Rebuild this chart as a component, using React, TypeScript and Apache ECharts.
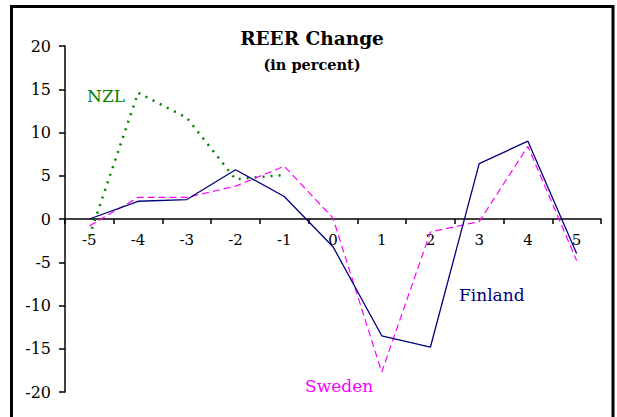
import React, { useEffect, useRef } from "react";
import * as echarts from "echarts";

const categories = ["-5", "-4", "-3", "-2", "-1", "0", "1", "2", "3", "4", "5"];
const finland = [0, 2.05, 2.25, 5.7, 2.6, -3.2, -13.5, -14.8, 6.4, 9.0, -4.0];
const sweden = [-0.8, 2.5, 2.5, 3.8, 6.1, 0.1, -17.7, -1.5, -0.3, 8.4, -4.8];
const nzl = [-2.0, 14.6, 11.7, 4.6, 5.1, null, null, null, null, null, null];
const yTicks = { min: -20, max: 20, interval: 5 };

const FONT = "DejaVu Serif";

export default function App() {
  const ref = useRef<HTMLDivElement>(null);
  useEffect(() => {
    if (!ref.current) return;
    const chart = echarts.init(ref.current, null, { renderer: "svg" });
    const gridTop = 46;
    const gridBottom = 25;
    const gridH = 417 - gridTop - gridBottom;
    const zeroOffset = -gridH * (0 - yTicks.min) / (yTicks.max - yTicks.min);
    chart.setOption({
      animation: false,
      backgroundColor: "#ffffff",
      textStyle: { fontFamily: FONT },
      grid: { left: 65, right: 16, top: gridTop, bottom: gridBottom, containLabel: false },
      xAxis: {
        type: "category",
        data: categories,
        boundaryGap: true,
        offset: zeroOffset,
        axisLine: { onZero: false, lineStyle: { color: "#000", width: 1.5 } },
        axisTick: { show: true, length: 5, alignWithLabel: false, lineStyle: { color: "#000", width: 1.5 } },
        axisLabel: { color: "#000", fontSize: 15, fontFamily: FONT, margin: 13 },
        splitLine: { show: false },
      },
      yAxis: {
        type: "value",
        min: yTicks.min,
        max: yTicks.max,
        interval: yTicks.interval,
        axisLine: { show: true, lineStyle: { color: "#000", width: 1.5 } },
        axisTick: { show: true, length: 6, lineStyle: { color: "#000", width: 1.5 } },
        axisLabel: { color: "#000", fontSize: 16, fontFamily: FONT, margin: 14 },
        splitLine: { show: false },
      },
      series: [
        {
          name: "NZL",
          type: "line",
          data: nzl,
          symbol: "none",
          connectNulls: false,
          lineStyle: { color: "#008000", width: 2.5, type: [2, 6] },
          z: 3,
        },
        {
          name: "Sweden",
          type: "line",
          data: sweden,
          symbol: "none",
          lineStyle: { color: "#ff00ff", width: 1.2, type: [7, 4] },
          z: 4,
        },
        {
          name: "Finland",
          type: "line",
          data: finland,
          symbol: "none",
          lineStyle: { color: "#000080", width: 1.3, type: "solid" },
          z: 5,
        },
      ],
      graphic: [
        {
          type: "rect",
          shape: { x: 11.5, y: 6.5, width: 601.5, height: 420 },
          style: { fill: "none", stroke: "#000", lineWidth: 3 },
          z: 10,
        },
        {
          type: "text",
          x: 312,
          y: 38,
          style: {
            text: "REER Change",
            fontFamily: FONT,
            fontSize: 18.5,
            fontWeight: "bold",
            fill: "#000",
            textAlign: "center",
            textVerticalAlign: "middle",
          },
        },
        {
          type: "text",
          x: 312,
          y: 64,
          style: {
            text: "(in percent)",
            fontFamily: FONT,
            fontSize: 14.5,
            fontWeight: "bold",
            fill: "#000",
            textAlign: "center",
            textVerticalAlign: "middle",
          },
        },
        {
          type: "text",
          x: 87,
          y: 96,
          style: {
            text: "NZL",
            fontFamily: FONT,
            fontSize: 17,
            fill: "#008000",
            textAlign: "left",
            textVerticalAlign: "middle",
          },
        },
        {
          type: "text",
          x: 459,
          y: 295,
          style: {
            text: "Finland",
            fontFamily: FONT,
            fontSize: 17,
            fill: "#000080",
            textAlign: "left",
            textVerticalAlign: "middle",
          },
        },
        {
          type: "text",
          x: 305,
          y: 386,
          style: {
            text: "Sweden",
            fontFamily: FONT,
            fontSize: 17,
            fill: "#ff00ff",
            textAlign: "left",
            textVerticalAlign: "middle",
          },
        },
      ],
    });
    return () => chart.dispose();
  }, []);
  return (
    <div
      ref={ref}
      style={{ position: "fixed", left: 0, top: 0, width: 617, height: 417, background: "#fff" }}
    />
  );
}
